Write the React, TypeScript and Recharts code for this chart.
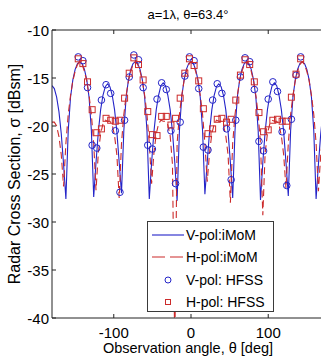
import React from "react";
import {
  ComposedChart,
  Line,
  XAxis,
  YAxis,
} from "recharts";

// observation angles of the iMoM curves (deg)
const angles = [
  -180, -177, -174, -171, -168, -165, -162, -159, -156, -153, -150, -147, -144,
  -141, -138, -135, -132, -129, -126, -123, -120, -117, -114, -111, -108, -105,
  -102, -99, -96, -93, -90, -87, -84, -81, -78, -75, -72, -69, -66, -63, -60,
  -57, -54, -51, -48, -45, -42, -39, -36, -33, -30, -27, -24, -21, -18, -15,
  -12, -9, -6, -3, 0, 3, 6, 9, 12, 15, 18, 21, 24, 27, 30, 33, 36, 39, 42, 45,
  48, 51, 54, 57, 60, 63, 66, 69, 72, 75, 78, 81, 84, 87, 90, 93, 96, 99, 102,
  105, 108, 111, 114, 117, 120, 123, 126, 129, 132, 135, 138, 141, 144, 147,
  150, 153, 156, 159, 162, 165, 168, 171, 174, 177, 180,
];

const vPolImom = [
  -15.8, -16.1, -17.0, -18.5, -20.8, -24.0, -27.6, -20.5, -17.0, -15.2, -14.1, -13.5, -13.3,
  -13.5, -14.1, -15.2, -17.0, -20.5, -27.4, -23.8, -20.6, -18.3, -16.8, -15.9, -15.6, -15.9,
  -16.8, -18.3, -20.6, -23.8, -27.0, -20.5, -17.0, -15.2, -14.1, -13.5, -13.3, -13.5, -14.1, -15.2, -17.0,
  -20.5, -27.6, -23.8, -20.6, -18.3, -16.8, -15.8, -15.5, -15.8, -16.8, -18.3, -20.6, -23.8, -27.8, -20.5,
  -17.0, -15.2, -14.1, -13.5, -13.3, -13.5, -14.1, -15.2, -17.0, -20.5, -27.1, -23.8, -20.6, -18.3, -16.8, -15.9, -15.6, -15.9, -16.8, -18.3,
  -20.6, -23.8, -27.5, -20.5, -17.0, -15.2, -14.1, -13.5, -13.3, -13.5, -14.1, -15.2, -17.0, -20.5, -27.7, -23.8, -20.6, -18.3, -16.8,
  -15.8, -15.5, -15.8, -16.8, -18.3, -20.6, -23.8, -27.3, -20.5, -17.0, -15.2, -14.1, -13.5, -13.3, -13.5,
  -14.1, -15.2, -17.0, -20.5, -27.6, -24.0, -20.8, -18.5, -17.0, -16.1, -15.8,
];

const hPolImom = [
  -19.6, -19.6, -20.0, -21.1, -23.0, -26.3, -21.8, -18.8, -16.8, -15.3, -14.3, -13.6, -13.3,
  -13.6, -14.3, -15.3, -16.8, -18.8, -21.8, -26.7, -22.8, -20.8, -19.8, -19.4, -19.5, -19.5,
  -19.9, -21.0, -23.0, -27.5, -21.8, -18.8, -16.8, -15.3, -14.3, -13.6, -13.3, -13.6, -14.3, -15.3, -16.8,
  -18.8, -21.8, -26.0, -22.8, -20.8, -19.8, -19.4, -19.5, -19.5, -19.9, -21.0, -24.0, -43.0, -21.8, -18.8,
  -16.8, -15.3, -14.3, -13.6, -13.3, -13.6, -14.3, -15.3, -16.8, -18.8, -21.8, -25.8, -22.8, -20.8, -19.8, -19.4, -19.5, -19.5, -19.9, -21.0,
  -23.0, -28.0, -21.8, -18.8, -16.8, -15.3, -14.3, -13.6, -13.3, -13.6, -14.3, -15.3, -16.8, -18.8, -21.8, -29.3, -22.8, -20.8, -19.8,
  -19.4, -19.5, -19.5, -19.9, -21.0, -23.0, -26.5, -21.8, -18.8, -16.8, -15.3, -14.3, -13.6, -13.3, -13.6,
  -14.3, -15.3, -16.8, -18.8, -21.8, -26.8, -23.0, -21.0, -19.9, -19.5, -19.5,
];

// HFSS sample angles (deg)
const hfssAngles = [
  -146, -140, -134, -128, -122, -116, -110, -104, -98, -92, -86, -80,
  -74, -68, -62, -56, -50, -44, -38, -32, -26, -20, -14, -8,
  -2, 4, 10, 16, 22, 28, 34, 40, 46, 52, 58, 64,
  70, 76, 82, 88, 94, 100, 106, 112, 118, 124, 130, 136,
  142,
];

const vPolHfss = [
  -12.8, -13.2, -16.0, -22.0, -22.3, -17.3, -15.7, -16.6, -20.5, -26.9, -19.4, -14.9,
  -12.6, -13.1, -16.0, -22.0, -22.4, -17.2, -15.5, -16.2, -20.5, -26.0, -19.6, -14.8,
  -12.8, -13.2, -16.1, -22.2, -22.5, -17.3, -15.6, -16.6, -20.3, -25.6, -19.4, -14.9,
  -12.9, -13.3, -16.2, -21.6, -22.6, -17.2, -15.4, -16.4, -20.6, -26.2, -19.3, -14.7,
  -12.8,
];

const hPolHfss = [
  -13.0, -13.5, -15.4, -18.3, -20.7, -20.3, -19.2, -19.4, -19.5, -19.4, -17.1, -14.5,
  -12.9, -13.6, -15.2, -18.5, -20.9, -21.0, -19.0, -19.0, -19.9, -19.2, -17.1, -14.5,
  -13.0, -13.7, -15.3, -18.2, -20.8, -20.3, -19.3, -19.2, -19.6, -19.3, -17.3, -14.7,
  -13.1, -13.6, -15.4, -18.6, -20.6, -20.4, -19.4, -19.3, -19.5, -19.5, -17.0, -14.6,
  -13.0,
];

const xTicks = [-100, 0, 100];
const yTicks = [-40, -35, -30, -25, -20, -15, -10];

const rows = [
  ...angles.map((a, i) => ({ angle: a, v: vPolImom[i], h: hPolImom[i] })),
  ...hfssAngles.map((a, i) => ({ angle: a, vh: vPolHfss[i], hh: hPolHfss[i] })),
].sort((p, q) => p.angle - q.angle);

const BLUE = "#2424c8";
const RED = "#cc2b2b";
const AXIS = "#222";
const FONT = "'Liberation Sans', Arial, sans-serif";

const PLOT_LEFT = 52;
const PLOT_TOP = 30;
const PLOT_BOTTOM = 318;

const YTick = ({ y, payload }: any) => (
  <g>
    <text x={PLOT_LEFT - 3} y={y} textAnchor="end" dominantBaseline="central" fontSize={15} fill="#000" fontFamily={FONT}>
      {payload.value}
    </text>
    <line x1={PLOT_LEFT} x2={PLOT_LEFT + 4} y1={y} y2={y} stroke={AXIS} />
  </g>
);

const XTick = ({ x, payload }: any) => (
  <g>
    <text x={x} y={PLOT_BOTTOM + 14} textAnchor="middle" dominantBaseline="central" fontSize={15} fill="#000" fontFamily={FONT}>
      {payload.value}
    </text>
    <line x1={x} x2={x} y1={PLOT_BOTTOM} y2={PLOT_BOTTOM - 4} stroke={AXIS} />
  </g>
);

const TopTick = ({ x }: any) => (
  <line x1={x} x2={x} y1={PLOT_TOP} y2={PLOT_TOP + 4} stroke={AXIS} />
);

const CircleDot = ({ cx, cy, value }: any) =>
  value == null || cy == null ? null : (
    <circle cx={cx} cy={cy} r={3.3} fill="none" stroke={BLUE} strokeWidth={1} />
  );

const SquareDot = ({ cx, cy, value }: any) =>
  value == null || cy == null ? null : (
    <rect x={cx - 3} y={cy - 3} width={6} height={6} fill="none" stroke={RED} strokeWidth={1} />
  );

const legendItems = [
  { label: "V-pol:iMoM", kind: "solid" },
  { label: "H-pol:iMoM", kind: "dash" },
  { label: "V-pol: HFSS", kind: "circle" },
  { label: "H-pol: HFSS", kind: "square" },
];

function LegendBox() {
  return (
    <div
      style={{
        position: "absolute",
        left: 147,
        top: 221,
        width: 127,
        height: 91,
        boxSizing: "border-box",
        border: "1px solid #3a3a3a",
        background: "#fff",
        fontFamily: FONT,
        fontSize: 14,
      }}
    >
      {legendItems.map((it, i) => (
        <div key={it.label} style={{ position: "absolute", left: 0, top: 2 + i * 22.3, height: 22, width: 125 }}>
          <svg width={36} height={22} style={{ position: "absolute", left: 3, top: 0 }}>
            {it.kind === "solid" && <line x1={1} x2={33} y1={11} y2={11} stroke={BLUE} strokeWidth={1.1} />}
            {it.kind === "dash" && (
              <line x1={1} x2={33} y1={11} y2={11} stroke={RED} strokeWidth={1.1} strokeDasharray="13 5" />
            )}
            {it.kind === "circle" && <circle cx={17} cy={11} r={3} fill="none" stroke={BLUE} />}
            {it.kind === "square" && <rect x={14.5} y={8.5} width={5} height={5} fill="none" stroke={RED} />}
          </svg>
          <span style={{ position: "absolute", left: 38, top: 11, transform: "translateY(-50%)", whiteSpace: "nowrap" }}>
            {it.label}
          </span>
        </div>
      ))}
    </div>
  );
}

export default function App() {
  return (
    <div
      style={{
        position: "fixed",
        left: 0,
        top: 0,
        width: 321,
        height: 361,
        overflow: "hidden",
        background: "#fff",
        fontFamily: FONT,
      }}
    >
      <div style={{ position: "absolute", left: 188, top: 14, transform: "translate(-50%,-50%)", fontSize: 13, whiteSpace: "nowrap" }}>
        a=1λ, θ=63.4°
      </div>
      <div style={{ position: "absolute", left: 0, top: 0 }}>
        <ComposedChart
          width={345}
          height={361}
          data={rows}
          margin={{ top: PLOT_TOP - 1, right: 15, bottom: 361 - PLOT_BOTTOM - 1, left: PLOT_LEFT - 1 }}
        >
          <XAxis
            dataKey="angle"
            type="number"
            domain={[-180, 180]}
            ticks={xTicks}
            allowDataOverflow
            height={1}
            tick={<XTick />}
            tickLine={false}
            axisLine={{ stroke: AXIS }}
          />
          <XAxis
            xAxisId="top"
            dataKey="angle"
            type="number"
            orientation="top"
            domain={[-180, 180]}
            ticks={xTicks}
            allowDataOverflow
            height={1}
            tick={<TopTick />}
            tickLine={false}
            axisLine={{ stroke: AXIS }}
          />
          <YAxis
            type="number"
            domain={[-40, -10]}
            ticks={yTicks}
            allowDataOverflow
            width={1}
            tick={<YTick />}
            tickLine={false}
            axisLine={{ stroke: AXIS }}
          />
          <Line
            dataKey="v"
            type="linear"
            stroke={BLUE}
            strokeWidth={1.1}
            dot={false}
            connectNulls
            isAnimationActive={false}
          />
          <Line
            dataKey="h"
            type="linear"
            stroke={RED}
            strokeWidth={1.1}
            strokeDasharray="7 4"
            dot={false}
            connectNulls
            isAnimationActive={false}
          />
          <Line
            dataKey="vh"
            stroke="none"
            dot={<CircleDot />}
            activeDot={false}
            isAnimationActive={false}
          />
          <Line
            dataKey="hh"
            stroke="none"
            dot={<SquareDot />}
            activeDot={false}
            isAnimationActive={false}
          />
        </ComposedChart>
      </div>
      <LegendBox />
      <div style={{ position: "absolute", left: 188, top: 348, transform: "translate(-50%,-50%)", fontSize: 14.5, whiteSpace: "nowrap" }}>
        Observation angle, θ [deg]
      </div>
      <div
        style={{
          position: "absolute",
          left: 15,
          top: 174,
          transform: "translate(-50%,-50%) rotate(-90deg)",
          fontSize: 16,
          whiteSpace: "nowrap",
        }}
      >
        Radar Cross Section, σ [dBsm]
      </div>
    </div>
  );
}
